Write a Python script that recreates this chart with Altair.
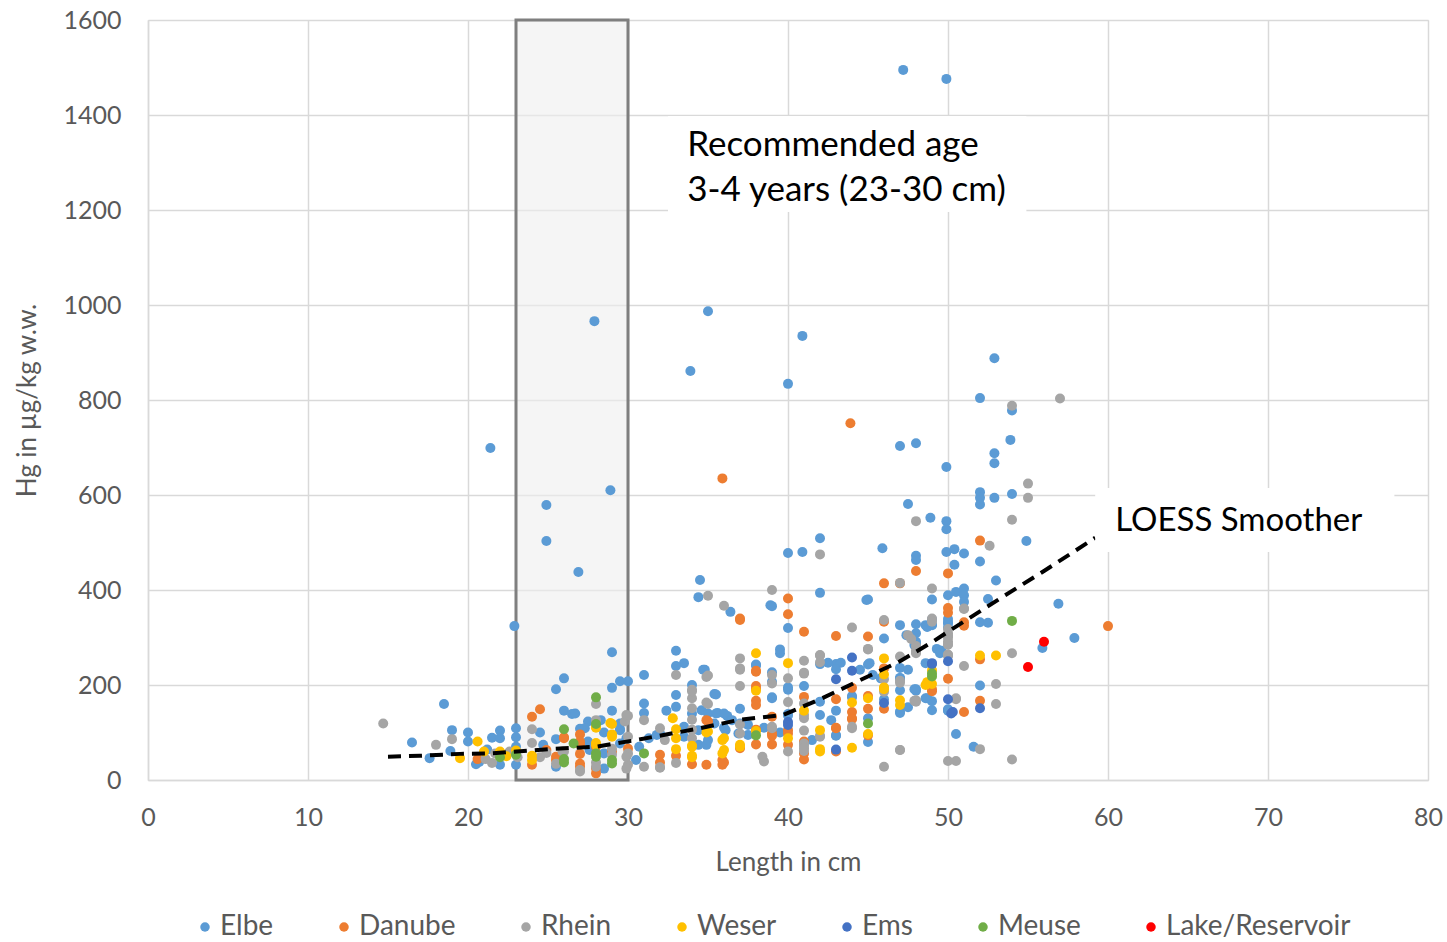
import altair as alt
import pandas as pd

series_order = ["Elbe", "Danube", "Rhein", "Weser", "Ems", "Meuse", "Lake/Reservoir"]
series_colors = ["#5B9BD5", "#ED7D31", "#A5A5A5", "#FFC000", "#4472C4", "#70AD47", "#FF0000"]

elbe_x = [47.2, 49.9, 35.0, 27.9, 40.9, 33.9, 40.0, 52.9, 52.0, 54.0, 53.9, 48.0, 47.0, 52.9, 52.9, 49.9, 21.4, 28.9, 24.9, 24.9,
          26.9, 22.9, 47.5, 48.9, 49.9, 49.9, 52.0, 52.0, 52.0, 52.9, 54.0, 54.9, 56.9, 57.9, 55.9, 45.9, 42.0, 40.0, 40.9, 34.5,
          34.4, 36.4, 38.9, 42.0, 44.9, 48.0, 48.0, 49.9, 50.4, 51.0, 50.4, 52.0, 53.0, 50.0, 50.5, 51.0, 51.0, 51.0, 52.5, 50.0,
          50.0, 52.0, 52.5, 49.0, 49.0, 49.0, 50.0, 48.7, 48.0, 49.3, 50.0, 52.0, 48.0, 48.7, 49.0, 49.0, 50.0, 50.5, 51.6, 40.0,
          39.0, 45.0, 46.0, 47.0, 48.0, 48.6, 49.0, 49.6, 47.4, 48.0, 48.7, 48.0, 50.0,
          29.0, 29.0, 29.5, 30.0, 31.0, 26.0, 26.5, 29.0, 27.5, 28.5, 29.5, 27.0, 29.5, 27.5, 27.6, 28.5, 25.5, 28.5, 25.5, 26.0,
          25.5, 24.5, 24.7, 33.0, 33.5, 33.0, 34.8, 38.0, 34.0, 33.0, 33.0, 31.0, 31.0, 35.4, 35.6, 36.2, 37.0, 32.4, 29.9, 30.5,
          30.7, 31.3, 31.8, 33.5, 33.5, 34.4, 34.4, 34.9, 35.4, 36.1, 36.9, 37.0, 29.5, 29.5, 28.3, 27.3, 26.7, 32.0, 34.0, 34.6,
          35.0, 35.5, 36.0, 36.5, 37.5, 35.0, 35.5, 34.7, 38.0, 39.0, 39.0, 39.5, 39.5, 40.0, 40.0, 42.0, 44.0, 43.0, 43.0, 45.0,
          45.0, 46.0, 47.0, 47.0, 47.0, 48.0, 48.6, 39.0, 39.0, 40.0, 40.0, 41.0, 41.5, 42.0, 42.0, 43.0, 43.0, 42.7, 44.0, 45.0,
          46.0, 47.0, 47.0, 47.0, 47.5, 47.5, 47.9, 47.9, 48.6, 49.5, 50.0, 42.5, 43.3, 43.0, 44.5, 45.1, 45.3, 45.8, 38.5, 39.5,
          37.5, 36.0, 16.5, 18.5, 17.6, 19.0, 18.9, 20.0, 20.0, 20.5, 21.5, 22.0, 22.0, 22.0, 23.0, 23.0, 23.0, 23.0, 20.7, 21.2]
elbe_y = [1495, 1476, 987, 966, 935, 861, 834, 888, 804, 778, 716, 709, 703, 688, 667, 659, 699, 610, 579, 503,
          438, 324, 581, 552, 545, 528, 606, 594, 580, 594, 602, 503, 371, 299, 278, 488, 509, 478, 480, 421,
          385, 354, 368, 394, 379, 472, 463, 480, 486, 477, 453, 460, 420, 389, 396, 403, 389, 375, 381, 339,
          332, 332, 331, 380, 338, 327, 321, 323, 291, 276, 146, 199, 191, 172, 166, 147, 147, 97, 70, 320,
          366, 380, 298, 326, 287, 326, 326, 272, 305, 328, 322, 309, 330,
          269, 194, 208, 208, 221, 146, 139, 146, 123, 100, 107, 108, 77, 81, 63, 56, 28, 24, 191, 214,
          86, 100, 74, 272, 246, 240, 232, 243, 200, 179, 154, 161, 141, 181, 141, 135, 150, 146, 88, 42,
          70, 88, 95, 112, 91, 105, 74, 74, 119, 105, 98, 119, 119, 105, 126, 109, 140, 98, 140, 147,
          140, 140, 140, 126, 116, 84, 180, 232, 241, 227, 172, 275, 267, 195, 139, 244, 177, 244, 94, 243,
          80, 193, 214, 189, 144, 188, 246, 207, 174, 190, 136, 198, 84, 165, 137, 146, 93, 126, 174, 130,
          170, 236, 215, 141, 232, 153, 284, 191, 172, 267, 149, 247, 247, 233, 232, 246, 221, 214, 110, 100,
          95, 110, 79, 160, 46, 105, 61, 100, 81, 33, 89, 104, 88, 32, 109, 90, 70, 32, 38, 64]

danube_x = [35.9, 43.9, 20.6, 24.0, 24.0, 24.5, 24.9, 25.5, 26.0, 25.5, 27.0, 26.0, 27.0, 27.0, 27.0, 28.0, 28.0, 30.0, 27.0, 27.0,
            28.0, 29.0, 37.0, 38.0, 38.0, 34.0, 34.9, 34.9, 35.9, 35.9, 37.0, 32.0, 32.0, 35.0, 33.0, 36.0, 37.0,
            48.0, 46.0, 47.0, 50.0, 50.0, 50.0, 37.0, 40.0, 40.0, 41.0, 43.0, 45.0, 46.0, 38.0, 38.0, 38.0, 38.0, 38.0,
            38.0, 39.0, 39.0, 39.0, 40.0, 40.0, 41.0, 41.0, 41.0, 44.0, 44.0, 44.0, 43.0, 43.0, 43.0, 45.0, 45.0, 46.0,
            49.0, 39.0, 40.0, 41.0, 43.0, 44.0, 45.0, 46.0, 51.0, 52.0, 51.0, 52.0, 52.0, 50.0, 51.0, 49.0, 60.0]
danube_y = [635, 751, 44, 32, 133, 149, 63, 42, 88, 49, 96, 90, 75, 55, 34, 70, 25, 66, 81, 28,
            14, 60, 337, 230, 192, 33, 126, 32, 42, 32, 67, 53, 37, 123, 51, 37, 70,
            440, 414, 414, 435, 362, 213, 340, 382, 349, 312, 303, 302, 333, 228, 198, 167, 158, 106,
            75, 133, 93, 75, 105, 74, 175, 81, 43, 194, 143, 130, 170, 110, 60, 177, 150, 235,
            187, 98, 98, 56, 109, 128, 94, 150, 332, 254, 143, 167, 504, 352, 325, 191, 324]

rhein_x = [14.7, 18.0, 19.0, 21.1, 21.5, 21.7, 22.6, 23.1, 24.0, 24.0, 24.9, 24.5, 25.9, 28.0, 28.0, 29.8, 30.0, 27.0, 28.0, 29.0,
           29.0, 30.0, 30.0, 30.0, 25.5, 26.0, 27.0, 28.0, 29.9, 29.9, 29.9,
           33.0, 34.9, 37.0, 37.0, 37.0, 34.0, 34.0, 34.0, 34.0, 34.0, 34.0, 33.0, 31.0, 31.0, 34.9, 37.0, 37.0, 32.0, 32.0,
           32.3, 34.0, 35.0, 35.0, 35.0, 36.0, 32.0, 38.5,
           48.0, 42.0, 47.0, 49.0, 39.0, 44.0, 45.0, 46.0, 47.5, 48.0, 49.0, 50.0, 50.0, 46.0, 50.0, 50.5,
           37.0, 39.0, 39.0, 40.0, 40.0, 40.0, 41.0, 41.0, 41.0, 41.0, 41.0, 41.0, 42.0, 42.0, 44.0, 45.0, 46.0, 47.0, 47.0, 47.0,
           48.0, 41.0, 42.0, 42.0, 46.0, 47.0, 48.0, 47.9, 49.0, 50.0, 50.0, 50.0, 50.5, 39.0, 39.0, 38.4, 41.0, 41.0, 41.0, 41.0,
           42.0, 44.0, 54.0, 57.0, 55.0, 55.0, 54.0, 52.6, 51.0, 50.0, 50.0, 50.0, 54.0, 51.0, 53.0, 53.0, 52.0, 54.0, 51.0, 47.7,
           48.0, 48.0, 50.0, 50.0, 50.0, 48.0, 50.5, 47.0]
rhein_y = [119, 74, 86, 44, 36, 56, 60, 48, 107, 78, 57, 48, 60, 160, 126, 123, 135, 21, 37, 53,
           66, 91, 56, 32, 34, 60, 18, 28, 137, 49, 24,
           221, 217, 256, 235, 198, 190, 172, 151, 127, 106, 88, 36, 126, 28, 163, 117, 98, 27, 109,
           84, 187, 220, 160, 388, 367, 26, 39,
           545, 475, 415, 403, 400, 321, 276, 337, 305, 272, 340, 304, 285, 28, 40, 40,
           232, 203, 109, 214, 164, 60, 251, 224, 130, 104, 72, 61, 262, 91, 109, 275, 186, 260, 209, 63,
           168, 226, 263, 248, 212, 205, 267, 167, 333, 318, 300, 263, 170, 221, 112, 49, 161, 137, 77, 67,
           93, 112, 788, 803, 624, 594, 548, 493, 361, 309, 292, 264, 267, 240, 202, 160, 65, 43, 360, 297,
           282, 269, 305, 286, 261, 165, 172, 63]

weser_x = [19.5, 20.6, 21.0, 22.0, 22.4, 23.0, 24.0, 24.0, 28.0, 29.0, 29.0, 28.0, 28.0, 28.0, 29.0, 28.9,
           38.0, 38.0, 34.0, 34.0, 32.8, 33.0, 33.0, 33.0, 34.9, 35.9, 35.9, 37.0, 34.0, 34.0, 35.0, 36.0, 36.0, 37.0,
           38.0, 40.0, 40.0, 41.0, 42.0, 42.0, 44.0, 44.0, 45.0, 45.0, 46.0, 46.0, 47.0, 47.0, 49.0, 48.6,
           46.0, 46.0, 48.7, 49.0, 52.0, 53.0, 42.0]
weser_y = [46, 81, 60, 60, 50, 62, 51, 42, 110, 118, 96, 78, 112, 74, 91, 120,
           267, 188, 70, 51, 130, 107, 88, 65, 100, 84, 56, 70, 72, 48, 102, 88, 63, 74,
           103, 246, 88, 146, 105, 65, 163, 68, 172, 97, 256, 195, 168, 158, 202, 200,
           222, 191, 206, 231, 262, 262, 60]

ems_x = [40.0, 43.0, 43.0, 44.0, 44.0, 46.0, 49.0, 50.0, 50.0, 50.2, 52.0, 50.3, 40.0, 49.0]
ems_y = [122, 212, 64, 258, 230, 162, 244, 170, 250, 140, 151, 143, 116, 246]

meuse_x = [22.0, 23.0, 26.0, 26.0, 28.0, 28.0, 26.6, 28.0, 29.0, 26.0, 28.0, 29.0, 31.0, 38.0, 45.0, 49.0, 54.0, 49.0]
meuse_y = [48, 53, 107, 37, 174, 118, 77, 56, 42, 44, 49, 35, 56, 94, 119, 218, 335, 224]

lake_x = [56.0, 55.0]
lake_y = [291, 238]

loess_x = [15, 17, 19.5, 21.5, 25, 28, 30.5, 34.5, 37, 39.7, 42, 44.5, 47, 49, 50.5, 53.25, 56, 59.2]
loess_y = [49, 51, 55, 56, 65, 70, 84, 109, 127, 137, 170, 210, 250, 290, 323, 382, 440, 510]

all_x = [elbe_x, danube_x, rhein_x, weser_x, ems_x, meuse_x, lake_x]
all_y = [elbe_y, danube_y, rhein_y, weser_y, ems_y, meuse_y, lake_y]
rows = []
for name, xs, ys in zip(series_order, all_x, all_y):
    for xv, yv in zip(xs, ys):
        rows.append({"series": name, "length": xv, "hg": yv, "order": series_order.index(name)})
pts = pd.DataFrame(rows)

FONT = "Lato"
GREY_TXT = "#595959"
xscale = alt.Scale(domain=[0, 80], nice=False, zero=False)
yscale = alt.Scale(domain=[0, 1600], nice=False)

base_rect = alt.Chart(pd.DataFrame({"x1": [23], "x2": [30], "y1": [0], "y2": [1600]})).mark_rect(
    fill="#EFEFEF", fillOpacity=0.6, stroke="#7F7F7F", strokeWidth=3
).encode(
    x=alt.X("x1:Q", scale=xscale,
            axis=alt.Axis(values=list(range(0, 81, 10)), title="Length in cm", grid=True, ticks=False, tickSize=0,
                          labelFontSize=25, labelColor=GREY_TXT, labelFont=FONT, labelPadding=25,
                          labelFlush=False, format="d",
                          titleFontSize=26, titleColor=GREY_TXT, titleFont=FONT, titleFontWeight="normal",
                          titlePadding=19, domainColor="#D9D9D9", domainWidth=1.5, gridColor="#D9D9D9",
                          gridWidth=1.5)),
    x2="x2:Q",
    y=alt.Y("y1:Q", scale=yscale,
            axis=alt.Axis(values=list(range(0, 1601, 200)), title="Hg in µg/kg w.w.", grid=True, ticks=False,
                          tickSize=0, labelFontSize=25, labelColor=GREY_TXT, labelFont=FONT, labelPadding=27,
                          labelFlush=False, format="d",
                          titleFontSize=26, titleColor=GREY_TXT, titleFont=FONT, titleFontWeight="normal",
                          titlePadding=22, domainColor="#D9D9D9", domainWidth=1.5, gridColor="#D9D9D9",
                          gridWidth=1.5)),
    y2="y2:Q",
)

points = alt.Chart(pts).mark_circle(size=100, opacity=1).encode(
    x=alt.X("length:Q", scale=xscale),
    y=alt.Y("hg:Q", scale=yscale),
    color=alt.Color("series:N", scale=alt.Scale(domain=series_order, range=series_colors),
                    legend=alt.Legend(title=None, orient="none", direction="horizontal", legendX=43, legendY=893,
                                      symbolType="circle", symbolSize=90, labelFontSize=28, labelFont=FONT,
                                      labelColor=GREY_TXT, columnPadding=56, labelOffset=1, padding=0,
                                      labelLimit=400)),
    order=alt.Order("order:Q"),
)

loess = alt.Chart(pd.DataFrame({"x": loess_x, "y": loess_y})).mark_line(
    color="black", strokeWidth=4, strokeDash=[13, 8]
).encode(x=alt.X("x:Q", scale=xscale), y=alt.Y("y:Q", scale=yscale))

boxes = alt.Chart(pd.DataFrame({"x1": [32.5, 59.2], "x2": [54.9, 77.9], "y1": [1196, 480], "y2": [1398, 615]})).mark_rect(
    fill="white"
).encode(x=alt.X("x1:Q", scale=xscale), x2="x2:Q", y=alt.Y("y1:Q", scale=yscale), y2="y2:Q")

labels = alt.Chart(pd.DataFrame({
    "x": [33.7, 33.7, 60.45],
    "y": [1337, 1242, 545],
    "t": ["Recommended age", "3-4 years (23-30 cm)", "LOESS Smoother"],
    "s": [35, 35, 33],
})).mark_text(align="left", baseline="middle", font=FONT, color="black").encode(
    x=alt.X("x:Q", scale=xscale), y=alt.Y("y:Q", scale=yscale), text="t:N",
    size=alt.Size("s:Q", scale=None, legend=None)
)

chart = alt.layer(base_rect, points, loess, boxes, labels).properties(
    width=1280, height=760,
    autosize=alt.AutoSizeParams(type="none"),
    padding={"left": 148, "top": 20, "right": 19, "bottom": 162},
).configure_view(stroke=None).configure(background="white")

chart.save("out.html", embed_options={"renderer": "svg", "actions": False})
